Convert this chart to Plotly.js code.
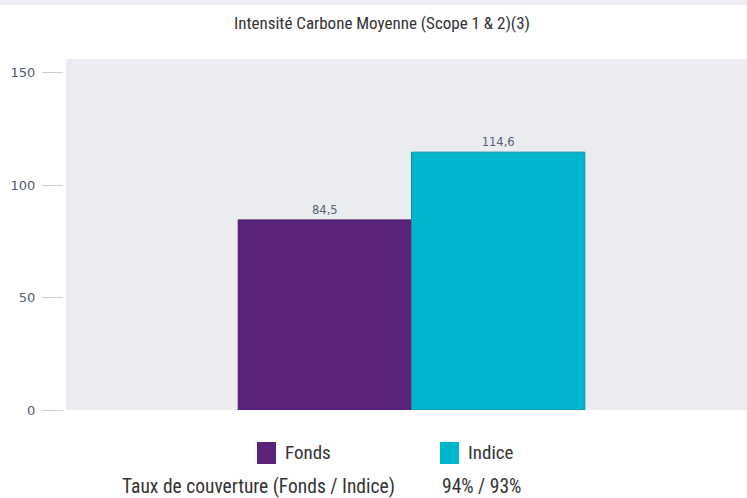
<!DOCTYPE html>
<html>
<head>
<meta charset="utf-8">
<script src="https://cdn.plot.ly/plotly-3.0.1.min.js"></script>
<style>html,body{margin:0;padding:0;background:#fff;}#chart{width:747px;height:498px;}</style>
</head>
<body>
<div id="chart"></div>
<script>
const chartTitle = "Intensité Carbone Moyenne (Scope 1 & 2)(3)";
const category = ["Intensité"];
const seriesNames = ["Fonds", "Indice"];
const seriesValues = [84.5, 114.6];
const seriesLabels = ["84,5", "114,6"];
const seriesColors = ["#5b247a", "#00b5cc"];
const seriesLines = ["#4a1866", "#0a93a8"];
const yTicks = [0, 50, 100, 150];
const coverageLabel = "Taux de couverture (Fonds / Indice)";
const coverageValue = "94% / 93%";

const condensed = "'Roboto Condensed', 'Liberation Sans Narrow', 'DejaVu Sans Condensed', sans-serif";

const W = 747, H = 498, ML = 63, MT = 59, MB = 88;
const PW = W - ML, PH = H - MT - MB;
const px = x => (x - ML) / PW;
const py = y => (H - MB - y) / PH;

const traces = seriesNames.map((name, i) => ({
  type: 'bar',
  name: name,
  x: category,
  y: [seriesValues[i]],
  text: [seriesLabels[i]],
  textposition: 'outside',
  textfont: {family: "'DejaVu Sans', sans-serif", size: 11.5, color: '#566270'},
  cliponaxis: false,
  marker: {color: seriesColors[i], line: {color: seriesLines[i], width: 1}},
  hoverinfo: 'none',
  showlegend: false
}));

const shapes = [
  {type: 'rect', xref: 'paper', yref: 'paper', x0: px(0), x1: 1, y0: py(5), y1: py(0), fillcolor: '#ebecf0', line: {width: 0}, layer: 'below'}
];
const annotations = [];
const legendX = [257, 440];
seriesNames.forEach((name, i) => {
  shapes.push({type: 'rect', xref: 'paper', yref: 'paper', x0: px(legendX[i]), x1: px(legendX[i] + 19), y0: py(464), y1: py(442), fillcolor: seriesColors[i], line: {width: 0}});
  annotations.push({xref: 'paper', yref: 'paper', x: px(legendX[i] + 26), y: py(452), xanchor: 'left', yanchor: 'middle', text: name, showarrow: false, font: {family: condensed, size: 19, color: '#333333'}});
});
annotations.push({xref: 'paper', yref: 'paper', x: px(120), y: py(486), xanchor: 'left', yanchor: 'middle', text: coverageLabel, showarrow: false, font: {family: condensed, size: 19.5, color: '#333333'}});
annotations.push({xref: 'paper', yref: 'paper', x: px(440), y: py(486), xanchor: 'left', yanchor: 'middle', text: coverageValue, showarrow: false, font: {family: condensed, size: 19.5, color: '#333333'}});
annotations.push({xref: 'paper', yref: 'paper', x: px(382), y: py(23), xanchor: 'center', yanchor: 'middle', text: chartTitle, showarrow: false, font: {family: condensed, size: 17, color: '#333333'}});

const shift = 5 / 681;
const layout = {
  width: W, height: H,
  margin: {l: ML, r: 0, t: MT, b: MB, pad: 0},
  paper_bgcolor: '#ffffff',
  plot_bgcolor: '#ebecf0',
  barmode: 'group',
  bargap: 0.491,
  bargroupgap: 0,
  showlegend: false,
  xaxis: {domain: [3 / PW, 1], range: [-0.5 - shift, 0.5 - shift], showticklabels: false, ticks: '', showgrid: false, zeroline: false, showline: false, fixedrange: true},
  yaxis: {range: [0, 156], tickvals: yTicks, ticktext: yTicks.map(String), anchor: 'free', position: 0, ticks: 'outside', ticklen: 21, tickwidth: 1, tickcolor: '#cccccc', ticklabelstandoff: 4,
          tickfont: {family: "'DejaVu Sans', sans-serif", size: 13, color: '#4f6070'}, showgrid: false, zeroline: false, showline: false, fixedrange: true},
  shapes: shapes,
  annotations: annotations
};

Plotly.newPlot('chart', traces, layout, {displayModeBar: false, staticPlot: true});
</script>
</body>
</html>
